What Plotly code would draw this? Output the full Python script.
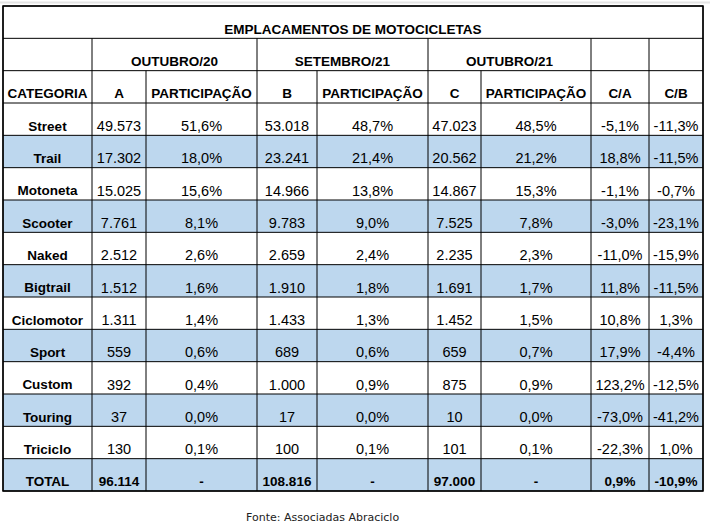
import plotly.graph_objects as go

categories = ["Street", "Trail", "Motoneta", "Scooter", "Naked", "Bigtrail",
              "Ciclomotor", "Sport", "Custom", "Touring", "Triciclo"]
out20 = [49573, 17302, 15025, 7761, 2512, 1512, 1311, 559, 392, 37, 130]
part_out20 = [51.6, 18.0, 15.6, 8.1, 2.6, 1.6, 1.4, 0.6, 0.4, 0.0, 0.1]
set21 = [53018, 23241, 14966, 9783, 2659, 1910, 1433, 689, 1000, 17, 100]
part_set21 = [48.7, 21.4, 13.8, 9.0, 2.4, 1.8, 1.3, 0.6, 0.9, 0.0, 0.1]
out21 = [47023, 20562, 14867, 7525, 2235, 1691, 1452, 659, 875, 10, 101]
part_out21 = [48.5, 21.2, 15.3, 7.8, 2.3, 1.7, 1.5, 0.7, 0.9, 0.0, 0.1]
var_ca = [-5.1, 18.8, -1.1, -3.0, -11.0, 11.8, 10.8, 17.9, 123.2, -73.0, -22.3]
var_cb = [-11.3, -11.5, -0.7, -23.1, -15.9, -11.5, 1.3, -4.4, -12.5, -41.2, 1.0]
totals = [96114, 108816, 97000]
total_ca = 0.9
total_cb = -10.9

title = "EMPLACAMENTOS DE MOTOCICLETAS"
groups = ["OUTUBRO/20", "SETEMBRO/21", "OUTUBRO/21"]
headers = ["CATEGORIA", "A", "PARTICIPAÇÃO", "B", "PARTICIPAÇÃO",
           "C", "PARTICIPAÇÃO", "C/A", "C/B"]
source = "Fonte: Associadas Abraciclo"


def fmt_int(v):
    return f"{v:,}".replace(",", ".")


def fmt_pct(v):
    return f"{v:.1f}%".replace(".", ",")


# layout of the grid (pixels)
W, H = 710, 526
col_edges = [3, 92, 146, 257, 317, 428, 481, 591, 649, 703]
top, bottom = 6, 491
n_rows = 15
row_h = (bottom - top) / n_rows
row_edges = [top + i * row_h for i in range(n_rows + 1)]
blue = "#BDD7EE"
font = "Liberation Sans, Arial, sans-serif"
bold_size = 13.5
plain_size = 14.5


def col_mid(i):
    return (col_edges[i] + col_edges[i + 1]) / 2


def text_y(r):
    return row_edges[r + 1] - 8


shapes = []
# blue banding: Trail, Scooter, Bigtrail, Sport, Touring and TOTAL
for r in [4, 6, 8, 10, 12, 14]:
    shapes.append(dict(type="rect", x0=col_edges[0], x1=col_edges[-1],
                       y0=row_edges[r], y1=row_edges[r + 1],
                       fillcolor=blue, line_width=0, layer="below"))

line = dict(color="black", width=1)
for y in row_edges:
    shapes.append(dict(type="line", x0=col_edges[0], x1=col_edges[-1],
                       y0=y, y1=y, line=line))
for i, x in enumerate(col_edges):
    if i in (0, len(col_edges) - 1):
        y0 = row_edges[0]
    elif i in (1, 3, 5, 7, 8):
        y0 = row_edges[1]
    else:
        y0 = row_edges[2]
    shapes.append(dict(type="line", x0=x, x1=x, y0=y0, y1=row_edges[-1], line=line))

# outer border a touch heavier
shapes.append(dict(type="rect", x0=col_edges[0], x1=col_edges[-1],
                   y0=row_edges[0], y1=row_edges[-1],
                   line=dict(color="black", width=1.5)))

# faint frame line at the top of the picture
shapes.append(dict(type="line", x0=0, x1=W, y0=2.5, y1=2.5,
                   line=dict(color="#e4e4e4", width=2)))

fig = go.Figure()


def add_text(xs, ys, texts, bold=False, size=plain_size):
    fig.add_trace(go.Scatter(
        x=xs, y=ys, text=texts, mode="text", textposition="middle center",
        textfont=dict(family=font, size=size, color="black",
                      weight="bold" if bold else "normal"),
        hoverinfo="skip", showlegend=False))


# title and group headers
add_text([(col_edges[0] + col_edges[-1]) / 2], [text_y(0)], [title], bold=True, size=bold_size)
add_text([(col_edges[1 + 2 * g] + col_edges[3 + 2 * g]) / 2 for g in range(3)],
         [text_y(1)] * 3, groups, bold=True, size=bold_size)
add_text([col_mid(i) for i in range(9)], [text_y(2)] * 9, headers, bold=True, size=bold_size)

# body
body_rows = list(range(3, 3 + len(categories)))
ys = [text_y(r) for r in body_rows]
add_text([col_mid(0)] * len(categories), ys, categories, bold=True, size=bold_size)
columns = [
    [fmt_int(v) for v in out20], [fmt_pct(v) for v in part_out20],
    [fmt_int(v) for v in set21], [fmt_pct(v) for v in part_set21],
    [fmt_int(v) for v in out21], [fmt_pct(v) for v in part_out21],
    [fmt_pct(v) for v in var_ca], [fmt_pct(v) for v in var_cb],
]
for i, col in enumerate(columns, start=1):
    add_text([col_mid(i)] * len(col), ys, col)

# total row
total_row = ["TOTAL", fmt_int(totals[0]), "-", fmt_int(totals[1]), "-",
             fmt_int(totals[2]), "-", fmt_pct(total_ca), fmt_pct(total_cb)]
add_text([col_mid(i) for i in range(9)], [text_y(14)] * 9, total_row, bold=True, size=bold_size)

fig.add_annotation(x=322.5, y=517, text=source, showarrow=False,
                   xanchor="center", yanchor="middle",
                   font=dict(family="DejaVu Sans, Verdana, sans-serif", size=11, color="#222"))

fig.update_layout(
    width=W, height=H,
    margin=dict(l=0, r=0, t=0, b=0),
    paper_bgcolor="white", plot_bgcolor="white",
    xaxis=dict(range=[0, W], visible=False, fixedrange=True),
    yaxis=dict(range=[H, 0], visible=False, fixedrange=True),
    shapes=shapes,
    hovermode=False,
)

# drop the page's default body margin so the figure sits at the window's corner
fig.write_html("out.html", config={"displayModeBar": False},
               post_script="document.body.style.margin='0';document.body.style.overflow='hidden';")
